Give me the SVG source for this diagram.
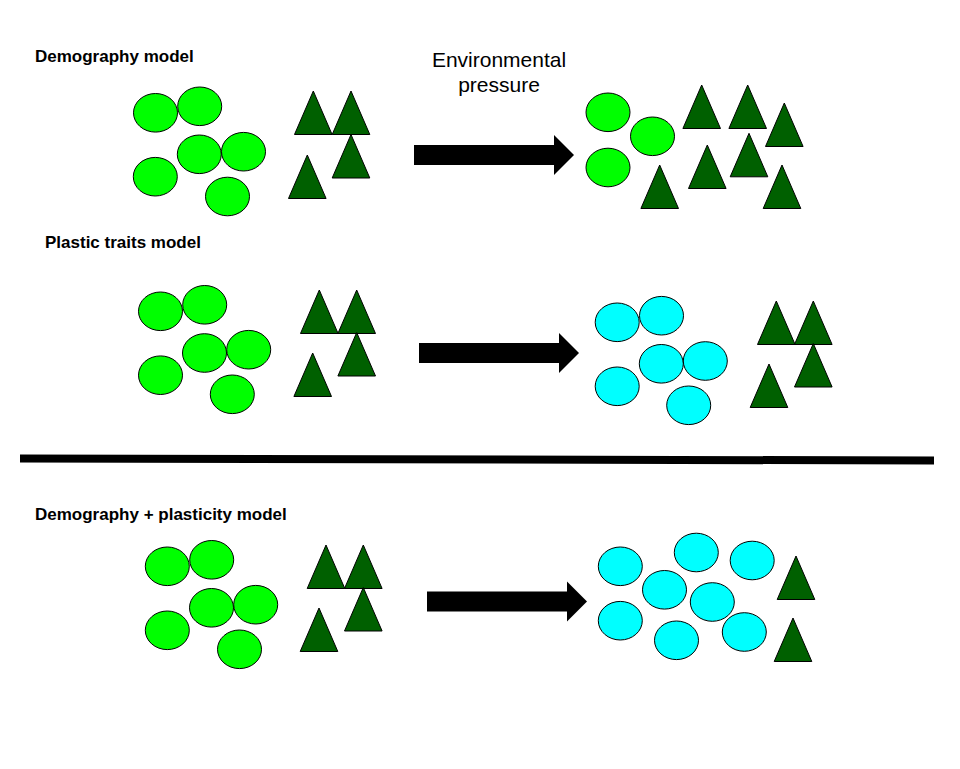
<svg xmlns="http://www.w3.org/2000/svg" xmlns:xlink="http://www.w3.org/1999/xlink" width="960" height="769" viewBox="0 0 960 769">
<style>
.lbl{font-family:"Liberation Sans",Arial,sans-serif;font-weight:bold;font-size:17px;fill:#000}
.env{font-family:"Liberation Sans",Arial,sans-serif;font-size:21px;fill:#000;text-anchor:middle}
.g{fill:#00ff00;stroke:#000;stroke-width:1}
.c{fill:#00ffff;stroke:#000;stroke-width:1}
.t{fill:#006000;stroke:#000;stroke-width:1}
.arr{fill:#000}
</style>
<defs>
<ellipse id="ell" cx="0" cy="0" rx="22" ry="19.3"/>
<path id="tri" d="M0,0 L18.8,43.5 L-18.8,43.5 Z"/>
<path id="arrow" d="M0,-10 H140 V-20 L160,0 L140,20 V10 H0 Z"/>
</defs>
<rect width="960" height="769" fill="#fff"/>

<g id="label-demography"><text class="lbl" x="35" y="62">Demography model</text></g>
<g id="label-plastic"><text class="lbl" x="45" y="248">Plastic traits model</text></g>
<g id="label-demoplast"><text class="lbl" x="35" y="520">Demography + plasticity model</text></g>
<g id="label-env"><text class="env" x="499" y="67">Environmental</text><text class="env" x="499" y="92">pressure</text></g>

<g id="divider"><line x1="20" y1="458.5" x2="934" y2="460.5" stroke="#000" stroke-width="8"/></g>

<g id="r1-before-circles">
<use href="#ell" class="g" x="155.5" y="112.8"/>
<use href="#ell" class="g" x="199.7" y="106.3"/>
<use href="#ell" class="g" x="199.3" y="154.3"/>
<use href="#ell" class="g" x="243.5" y="151.7"/>
<use href="#ell" class="g" x="155.3" y="176.7"/>
<use href="#ell" class="g" x="227.5" y="196.5"/>
</g>
<g id="r1-before-triangles">
<use href="#tri" class="t" x="313.3" y="91"/>
<use href="#tri" class="t" x="351" y="91"/>
<use href="#tri" class="t" x="351" y="134.5"/>
<use href="#tri" class="t" x="307.3" y="155"/>
</g>
<g id="r1-after-circles">
<use href="#ell" class="g" x="608" y="112.3"/>
<use href="#ell" class="g" x="652.5" y="136.3"/>
<use href="#ell" class="g" x="608" y="167.5"/>
</g>
<g id="r1-after-triangles">
<use href="#tri" class="t" x="701.7" y="85"/>
<use href="#tri" class="t" x="747.7" y="85"/>
<use href="#tri" class="t" x="784.3" y="103"/>
<use href="#tri" class="t" x="749" y="133.3"/>
<use href="#tri" class="t" x="707.3" y="145"/>
<use href="#tri" class="t" x="659.7" y="165"/>
<use href="#tri" class="t" x="782" y="165"/>
</g>

<g id="r2-before-circles">
<use href="#ell" class="g" x="160.5" y="311.3"/>
<use href="#ell" class="g" x="204.7" y="304.8"/>
<use href="#ell" class="g" x="204.5" y="353"/>
<use href="#ell" class="g" x="248.7" y="349.7"/>
<use href="#ell" class="g" x="160.5" y="375.2"/>
<use href="#ell" class="g" x="232.3" y="394.3"/>
</g>
<g id="r2-before-triangles">
<use href="#tri" class="t" x="319.3" y="290"/>
<use href="#tri" class="t" x="356.7" y="290"/>
<use href="#tri" class="t" x="356.7" y="332.5"/>
<use href="#tri" class="t" x="312.7" y="353"/>
</g>
<g id="r2-after-circles">
<use href="#ell" class="c" x="617.2" y="322.3"/>
<use href="#ell" class="c" x="661.5" y="315.7"/>
<use href="#ell" class="c" x="661.3" y="363.8"/>
<use href="#ell" class="c" x="705.3" y="361"/>
<use href="#ell" class="c" x="617.2" y="386.3"/>
<use href="#ell" class="c" x="688.7" y="405.3"/>
</g>
<g id="r2-after-triangles">
<use href="#tri" class="t" x="776.3" y="301"/>
<use href="#tri" class="t" x="813.3" y="301"/>
<use href="#tri" class="t" x="813.3" y="343.5"/>
<use href="#tri" class="t" x="769" y="364"/>
</g>

<g id="r3-before-circles">
<use href="#ell" class="g" x="167.3" y="566.3"/>
<use href="#ell" class="g" x="211.7" y="559.8"/>
<use href="#ell" class="g" x="211.5" y="607.8"/>
<use href="#ell" class="g" x="255.7" y="604.7"/>
<use href="#ell" class="g" x="167.3" y="630.3"/>
<use href="#ell" class="g" x="239.5" y="649.3"/>
</g>
<g id="r3-before-triangles">
<use href="#tri" class="t" x="326" y="545"/>
<use href="#tri" class="t" x="363.3" y="545"/>
<use href="#tri" class="t" x="363.3" y="587.5"/>
<use href="#tri" class="t" x="319" y="608"/>
</g>
<g id="r3-after-circles">
<use href="#ell" class="c" x="620.3" y="566.3"/>
<use href="#ell" class="c" x="696.3" y="552.5"/>
<use href="#ell" class="c" x="752.2" y="560.5"/>
<use href="#ell" class="c" x="664.5" y="589.8"/>
<use href="#ell" class="c" x="712.3" y="602"/>
<use href="#ell" class="c" x="620.3" y="620.7"/>
<use href="#ell" class="c" x="676.5" y="640.3"/>
<use href="#ell" class="c" x="744.3" y="632"/>
</g>
<g id="r3-after-triangles">
<use href="#tri" class="t" x="796" y="556"/>
<use href="#tri" class="t" x="793" y="618"/>
</g>

<g id="connectors">
<use href="#arrow" class="arr" x="414" y="155"/>
<use href="#arrow" class="arr" x="419" y="353"/>
<use href="#arrow" class="arr" x="427" y="601.5"/>
</g>
</svg>
